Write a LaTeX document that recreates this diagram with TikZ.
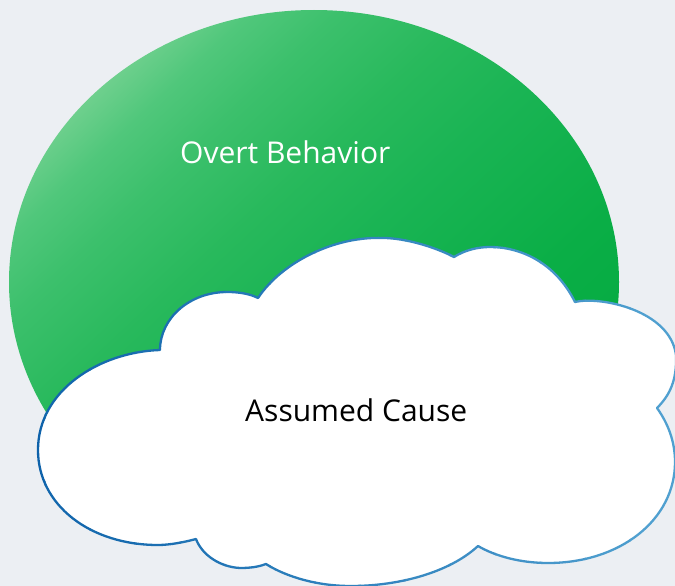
\documentclass[tikz,border=0pt]{standalone}
\usepackage{fontspec}
\setmainfont{Open Sans}
\definecolor{bgpanel}{RGB}{236,239,243}
\definecolor{greenA}{RGB}{118,210,146}
\definecolor{greenB}{RGB}{80,199,123}
\definecolor{greenC}{RGB}{60,192,108}
\definecolor{greenD}{RGB}{40,185,92}
\definecolor{greenE}{RGB}{26,180,84}
\definecolor{greenF}{RGB}{10,174,70}
\definecolor{greenG}{RGB}{4,170,64}
\definecolor{cloudedge}{RGB}{14,98,170}
\definecolor{cloudedgelight}{RGB}{80,160,208}
\pgfdeclarehorizontalshading{greenramp}{100bp}{color(0bp)=(greenA); color(25bp)=(greenA);
  color(30bp)=(greenB); color(35bp)=(greenC); color(42.5bp)=(greenD);
  color(50bp)=(greenE); color(62.5bp)=(greenF); color(75bp)=(greenG); color(100bp)=(greenG)}
\tikzset{
  labeltext/.style={font=\fontsize{30}{36}\selectfont, inner sep=0pt, anchor=base west},
  cloudline/.style={line width=2.3pt, line join=round},
}
\begin{document}
\begin{tikzpicture}[x=1pt,y=-1pt]
%%Background and bounding box
\fill[bgpanel] (0,0) rectangle (675,586);
\useasboundingbox (0,0) rectangle (675,586);
%%The green oval
\begin{scope}
  \clip (314,282) ellipse [x radius=305, y radius=272];
  \shade[shading=greenramp, transform canvas={rotate around={-47:(314,282)}}]
    (14,-18) rectangle (614,582);
\end{scope}
%%The cloud outline, saved once
\path[save path=\causecloud]
  (160,350)
  .. controls (160,318) and (190,292) .. (227,292)
  .. controls (240,292) and (250,294) .. (258,298)
  .. controls (282,262) and (335,236) .. (383,238)
  .. controls (405,238) and (435,247) .. (454,257)
  .. controls (465,250) and (478,247) .. (490,247)
  .. controls (520,247) and (555,262) .. (575,302)
  .. controls (600,296) and (670,310) .. (676,355)
  .. controls (677,380) and (670,395) .. (657,408)
  .. controls (667,422) and (675,440) .. (675,462)
  .. controls (675,520) and (620,563) .. (548,563)
  .. controls (520,563) and (495,556) .. (478,546)
  .. controls (450,572) and (400,586) .. (351,586)
  .. controls (310,586) and (280,573) .. (266,564)
  .. controls (258,567) and (250,568) .. (240,568)
  .. controls (220,567) and (202,555) .. (196,539)
  .. controls (185,542) and (170,545) .. (158,545)
  .. controls (90,545) and (38,505) .. (38,450)
  .. controls (38,390) and (100,352) .. (160,350) -- cycle;
%%Fill the cloud, then stroke it strip by strip (dark left, light right)
\fill[white, use path=\causecloud];
\foreach \k in {0,...,14} {
  \pgfmathsetmacro\mixpct{100-\k*100/14}
  \begin{scope}
    \clip (\k*45-0.5,0) rectangle (\k*45+45.5,586);
    \draw[cloudline, cloudedge!\mixpct!cloudedgelight, use path=\causecloud];
  \end{scope}
}
%%The two labels
\node[labeltext, white] (overt) at (180,163) {Overt Behavior};
\node[labeltext, black] (cause) at (245,421) {Assumed Cause};
\end{tikzpicture}
\end{document}
